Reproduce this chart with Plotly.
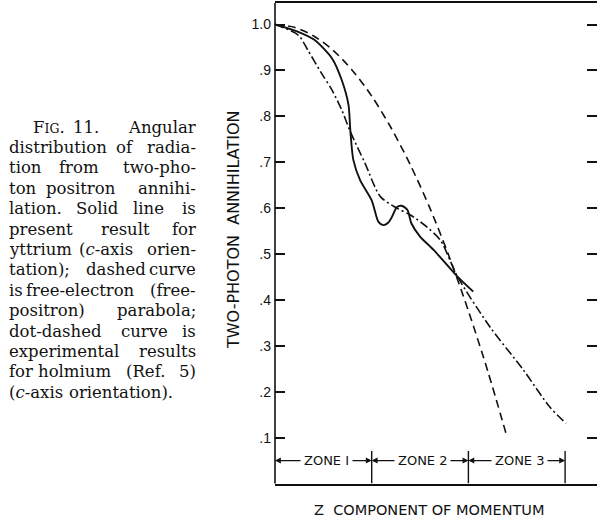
import plotly.graph_objects as go

# ---------------- data ----------------
solid_x = [0, 0.24, 0.41, 0.59, 0.69, 0.76, 0.78, 0.81, 0.88, 1.0, 1.07, 1.12, 1.17,
           1.21, 1.26, 1.31, 1.37, 1.41, 1.50, 1.64, 1.89, 2.05]
solid_y = [1.0, 0.984, 0.966, 0.926, 0.879, 0.825, 0.766, 0.705, 0.661, 0.617, 0.570,
           0.563, 0.568, 0.581, 0.602, 0.605, 0.596, 0.567, 0.538, 0.509, 0.45, 0.418]

dashed_x = [0, 0.2, 0.4, 0.6, 0.8, 1.0, 1.2, 1.4, 1.6, 1.8, 2.0, 2.2, 2.4]
dashed_y = [1.0, 0.994, 0.975, 0.944, 0.900, 0.844, 0.775, 0.694, 0.601, 0.495, 0.376, 0.245, 0.101]

dotdash_x = [0, 0.24, 0.34, 0.48, 0.59, 0.69, 0.78, 0.93, 1.09, 1.26, 1.40, 1.57, 1.71,
             1.89, 2.22, 2.57, 2.84, 3.01]
dotdash_y = [1.0, 0.977, 0.944, 0.894, 0.857, 0.814, 0.766, 0.698, 0.625, 0.600, 0.585,
             0.559, 0.530, 0.45, 0.342, 0.247, 0.167, 0.131]

y_ticks = [0.1, 0.2, 0.3, 0.4, 0.5, 0.6, 0.7, 0.8, 0.9, 1.0]
y_tick_labels = [".1", ".2", ".3", ".4", ".5", ".6", ".7", ".8", ".9", "1.0"]

zone_edges = [0, 1, 2, 3]
zone_labels = ["ZONE I", "ZONE 2", "ZONE 3"]

y_title = "TWO-PHOTON&nbsp;&nbsp;ANNIHILATION"
x_title = "Z&nbsp;&nbsp;COMPONENT OF MOMENTUM"

# caption words: (text, x pixel, anchor)  -- last word of justified lines anchored right
caption_lines = [
    [("F<span style='font-size:12.5px'>IG</span>.", 32, "l"), ("11.", 72, "l"), ("Angular", 197, "r")],
    [("distribution", 8, "l"), ("of", 115, "l"), ("radia-", 197, "r")],
    [("tion", 8, "l"), ("from", 58, "l"), ("two-pho-", 197, "r")],
    [("ton", 8, "l"), ("positron", 45, "l"), ("annihi-", 197, "r")],
    [("lation.", 8, "l"), ("Solid", 75, "l"), ("line", 132, "l"), ("is", 197, "r")],
    [("present", 8, "l"), ("result", 100, "l"), ("for", 197, "r")],
    [("yttrium", 8, "l"), ("(<i>c</i>-axis", 78, "l"), ("orien-", 197, "r")],
    [("tation);", 8, "l"), ("dashed", 85, "l"), ("curve", 197, "r")],
    [("is", 8, "l"), ("free-electron", 25, "l"), ("(free-", 197, "r")],
    [("positron)", 8, "l"), ("parabola;", 197, "r")],
    [("dot-dashed", 8, "l"), ("curve", 120, "l"), ("is", 197, "r")],
    [("experimental", 8, "l"), ("results", 197, "r")],
    [("for", 8, "l"), ("holmium", 37, "l"), ("(Ref.", 125, "l"), ("5)", 197, "r")],
    [("(<i>c</i>-axis", 8, "l"), ("orientation).", 68, "l")],
]

# ---------------- layout geometry (pixels) ----------------
W, H = 597, 519
AX_L, AX_T, AX_B = 275, 3, 483.5
PX_PER_X, PX_PER_Y = 96.7, 459.0
X_MAX = (W - AX_L) / PX_PER_X
Y_MAX = (AX_B - AX_T) / PX_PER_Y


def px(x):
    return x / W


def py(y):
    return 1 - y / H


INK = "#111111"
SANS = "DejaVu Sans"
fig = go.Figure()

fig.add_trace(go.Scatter(x=dashed_x, y=dashed_y, mode="lines",
                         line=dict(color=INK, width=1.6, dash="8px,5px", shape="spline", smoothing=0.8),
                         hoverinfo="skip", showlegend=False))
fig.add_trace(go.Scatter(x=dotdash_x, y=dotdash_y, mode="lines",
                         line=dict(color=INK, width=1.6, dash="9px,3px,2px,3px", shape="spline", smoothing=0.8),
                         hoverinfo="skip", showlegend=False))
fig.add_trace(go.Scatter(x=solid_x, y=solid_y, mode="lines",
                         line=dict(color=INK, width=1.9, shape="spline", smoothing=0.7),
                         hoverinfo="skip", showlegend=False))

fig.update_layout(
    width=W, height=H,
    margin=dict(l=0, r=0, t=0, b=0),
    paper_bgcolor="white", plot_bgcolor="white",
    showlegend=False,
    xaxis=dict(domain=[px(AX_L), 1], range=[0, X_MAX], showgrid=False, zeroline=False,
               showline=True, mirror=True, linecolor=INK, linewidth=1.8,
               showticklabels=False, ticks=""),
    yaxis=dict(domain=[py(AX_B), py(AX_T)], range=[0, Y_MAX], showgrid=False, zeroline=False,
               showline=False, tickvals=y_ticks, ticktext=y_tick_labels,
               ticks="inside", ticklen=10, tickwidth=1.5, tickcolor=INK, mirror="ticks",
               tickfont=dict(family="Liberation Sans, Arial", size=14, color=INK),
               ticklabelstandoff=3),
)

# left frame line
fig.add_shape(type="line", xref="paper", yref="paper", x0=px(AX_L), x1=px(AX_L),
              y0=py(AX_B), y1=py(AX_T), line=dict(color=INK, width=1.6))

# zone dividers
ZONE_Y = 0.05
for e in zone_edges[1:]:
    fig.add_shape(type="line", xref="x", yref="y", x0=e, x1=e, y0=0, y1=0.071,
                  line=dict(color=INK, width=1.4))

# zone arrows and labels
for i, lab in enumerate(zone_labels):
    a, b = zone_edges[i], zone_edges[i + 1]
    c = (a + b) / 2
    for edge in (a, b):
        fig.add_annotation(x=edge, y=ZONE_Y, ax=c, ay=ZONE_Y, xref="x", yref="y",
                           axref="x", ayref="y", text="", showarrow=True,
                           arrowhead=2, arrowsize=0.9, arrowwidth=1.3, arrowcolor=INK,
                           standoff=0, startstandoff=0)
for i, lab in enumerate(zone_labels):
    c = (zone_edges[i] + zone_edges[i + 1]) / 2 + 0.03
    fig.add_annotation(x=c, y=ZONE_Y, xref="x", yref="y", text=lab, showarrow=False,
                       xanchor="center", yanchor="middle", bgcolor="white", borderpad=3,
                       font=dict(family=SANS, size=13, color=INK))

# axis titles
fig.add_annotation(x=px(233), y=py(230), xref="paper", yref="paper", text=y_title,
                   textangle=-90, showarrow=False, xanchor="center", yanchor="middle",
                   font=dict(family=SANS, size=16, color=INK))
fig.add_annotation(x=px(429), y=py(510), xref="paper", yref="paper", text=x_title,
                   showarrow=False, xanchor="center", yanchor="middle",
                   font=dict(family=SANS, size=14.5, color=INK))

# caption
LINE0, LINE_STEP = 127, 20.4
for k, words in enumerate(caption_lines):
    yy = LINE0 + k * LINE_STEP
    for text, xx, anc in words:
        fig.add_annotation(x=px(xx), y=py(yy), xref="paper", yref="paper", text=text,
                           showarrow=False, xanchor="left" if anc == "l" else "right",
                           yanchor="middle", borderpad=0,
                           font=dict(family="DejaVu Serif", size=16.5, color=INK))

fig.write_html("out.html", config={"displayModeBar": False},
               post_script="document.body.style.margin='0px';document.body.style.overflow='hidden';")
